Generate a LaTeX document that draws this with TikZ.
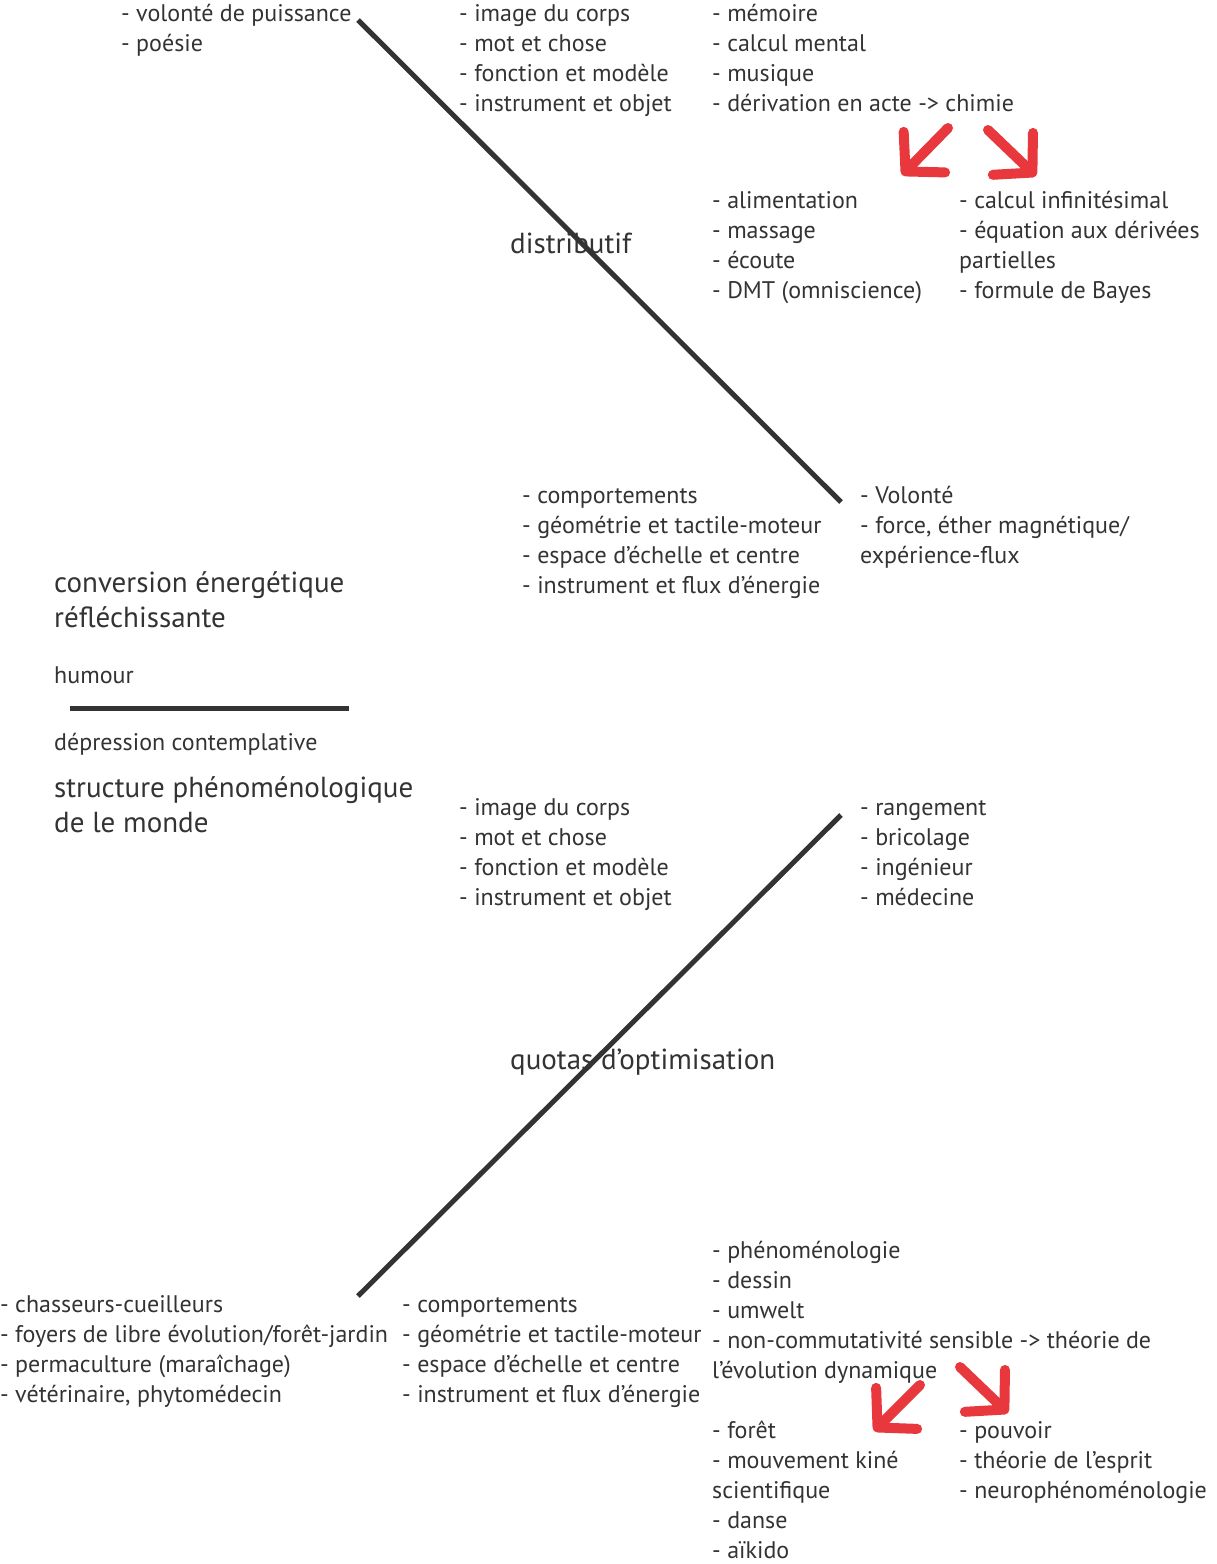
\documentclass[tikz,border=0pt]{standalone}
\usepackage{fontspec}
\setmainfont{PT Sans}
\usetikzlibrary{arrows.meta, positioning}
\definecolor{ink}{HTML}{333333}
\definecolor{redpen}{HTML}{E8383D}

\begin{document}
\begin{tikzpicture}[
        x=1pt, y=-1pt,
        liste/.style={anchor=base west, inner sep=0pt, align=left, text=ink, font=\fontsize{24}{30}\selectfont},
        titre/.style={anchor=base west, inner sep=0pt, align=left, text=ink, font=\fontsize{29}{35}\selectfont},
        axe/.style={draw=ink, line width=5pt},
        pen/.style={draw=redpen, line width=10pt, line cap=round, -{Straight Barb[length=27pt, width=58pt, round]}}
    ]
        \useasboundingbox (0,0) rectangle (1216,1564);

        % upper half (nodes sit on the baseline of their last line)
        \node[liste] (puissance) at (121,51) {- volonté de puissance\\- poésie};
        \node[liste] (corpsA) at (459,111) {- image du corps\\- mot et chose\\- fonction et modèle\\- instrument et objet};
        \node[liste] (memoire) at (712,111) {- mémoire\\- calcul mental\\- musique\\- dérivation en acte -> chimie};
        \node[liste] (aliment) at (712,298) {- alimentation\\- massage\\- écoute\\- DMT (omniscience)};
        \node[liste] (calcul) at (959,298) {- calcul infinitésimal\\- équation aux dérivées\\partielles\\- formule de Bayes};
        \node[titre] (distrib) at (510,253) {distributif};
        \node[liste] (comportA) at (522,593) {- comportements\\- géométrie et tactile-moteur\\- espace d’échelle et centre\\- instrument et flux d’énergie};
        \node[liste] (volonte) at (860,563) {- Volonté\\- force, éther magnétique/\\expérience-flux};

        % middle
        \node[titre] (conversion) at (54,627) {conversion énergétique\\réfléchissante};
        \node[liste] (humour) at (54,683) {humour};
        \node[liste] (depression) at (54,750) {dépression contemplative};
        \node[titre] (structure) at (54,832) {structure phénoménologique\\de le monde};

        % lower half
        \node[liste] (corpsB) at (459,905) {- image du corps\\- mot et chose\\- fonction et modèle\\- instrument et objet};
        \node[liste] (rangement) at (860,905) {- rangement\\- bricolage\\- ingénieur\\- médecine};
        \node[titre] (quotas) at (510,1069) {quotas d’optimisation};
        \node[liste] (chasseurs) at (0,1402) {- chasseurs-cueilleurs\\- foyers de libre évolution/forêt-jardin\\- permaculture (maraîchage)\\- vétérinaire, phytomédecin};
        \node[liste] (comportB) at (402,1402) {- comportements\\- géométrie et tactile-moteur\\- espace d’échelle et centre\\- instrument et flux d’énergie};
        \node[liste] (pheno) at (712,1378) {- phénoménologie\\- dessin\\- umwelt\\- non-commutativité sensible -> théorie de\\l’évolution dynamique};
        \node[liste] (foret) at (712,1558) {- forêt\\- mouvement kiné\\scientifique\\- danse\\- aïkido};
        \node[liste] (pouvoir) at (959,1498) {- pouvoir\\- théorie de l’esprit\\- neurophénoménologie};

        % axes
        \coordinate (dA) at (358,20);
        \coordinate (dB) at (841,502);
        \coordinate (qA) at (358,1296);
        \coordinate (qB) at (841,815);
        \coordinate (hA) at (70,708);
        \coordinate (hB) at (349,708);
        \draw[axe] (dA) -- (dB);
        \draw[axe] (qA) -- (qB);
        \draw[axe] (hA) -- (hB);

        % red arrows
        \coordinate (chimieL) at (948,128);
        \coordinate (chimieR) at (988,130);
        \coordinate (dynL) at (920,1385);
        \coordinate (dynR) at (960,1367);
        \draw[pen] (chimieL) -- (902,175);
        \draw[pen] (chimieR) -- (1036,176);
        \draw[pen] (dynL) -- (874,1431);
        \draw[pen] (dynR) -- (1008,1413);
    \end{tikzpicture}
\end{document}
